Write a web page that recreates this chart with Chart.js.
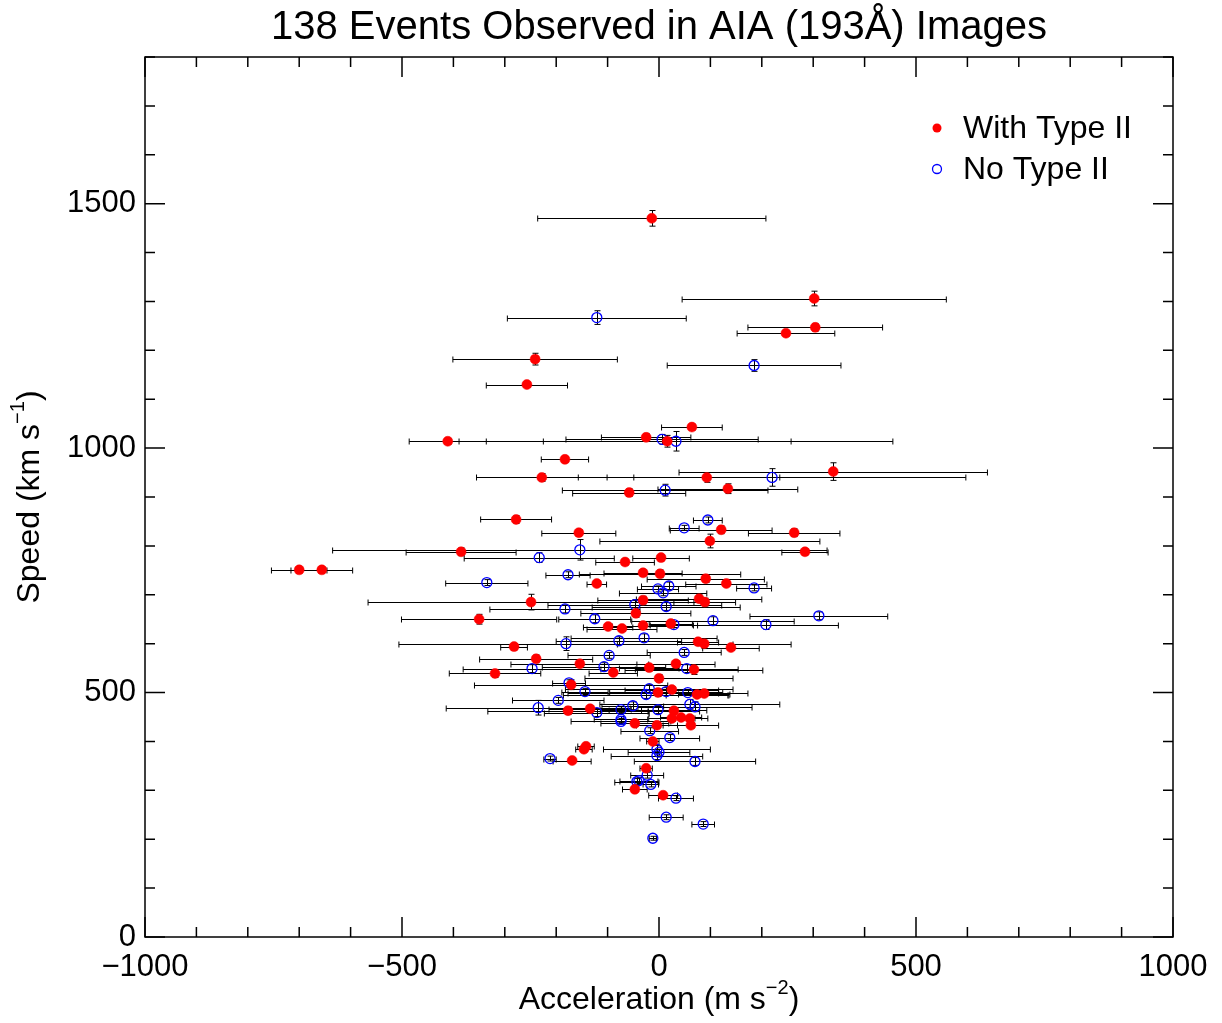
<!DOCTYPE html>
<html>
<head>
<meta charset="utf-8">
<script src="https://cdn.jsdelivr.net/npm/chart.js@4.4.1/dist/chart.umd.min.js"></script>
<style>
  html, body { margin: 0; padding: 0; background: #fff; }
</style>
</head>
<body>
<canvas id="chart" width="1222" height="1023"></canvas>
<script>
// With Type II (red, filled)
const redAcc = [-14, 302, 304, 247, -241, -257, 64, -411, -25, 16, -183, -228, 93, 339, -58, 134, -278, 121, 263, -156,
  99, -385, 284, 4, -66, -700, -656, -31, 2, 91, 131, -121, -249, -31, 78, 89, -45, -350, 23, -99,
  -72, -31, 76, 88, 140, -282, -239, -154, 33, -19, 68, -319, -89, 0, -171, 25, -2, 74, 88, -134,
  -177, 29, 25, 43, 60, 62, -47, -4, -12, -142, -146, -169, -25, -47, 8];
const redSpeed = [1470, 1306, 1247, 1235, 1182, 1130, 1043, 1014, 1022, 1014, 977, 940, 940, 952, 909, 917, 854, 833, 827, 827,
  810, 788, 788, 776, 767, 751, 751, 745, 743, 733, 723, 723, 685, 689, 692, 685, 662, 650, 641, 635,
  631, 637, 604, 600, 592, 594, 569, 559, 559, 551, 547, 539, 541, 529, 516, 506, 500, 496, 498, 467,
  463, 463, 447, 449, 447, 433, 437, 433, 400, 390, 384, 361, 345, 302, 290];
const redAccErr = [222, 257, 131, 95, 160, 79, 59, 75, 87, 241, 46, 127, 142, 300, 110, 136, 69, 99, 89, 72,
  214, 107, 45, 55, 57, 54, 60, 76, 157, 114, 79, 19, 317, 88, 122, 60, 107, 151, 42, 48,
  68, 60, 40, 169, 55, 26, 110, 134, 76, 58, 134, 89, 47, 144, 188, 91, 175, 60, 50, 80,
  156, 50, 45, 40, 35, 54, 66, 40, 12, 16, 16, 37, 12, 24, 28];
const redSpeedErr = [16, 15, 8, 6, 12, 6, 6, 6, 8, 12, 6, 8, 10, 18, 8, 10, 8, 8, 8, 6,
  14, 8, 6, 6, 6, 5, 5, 6, 8, 8, 6, 6, 16, 8, 8, 8, 8, 10, 6, 6,
  6, 6, 6, 10, 6, 6, 8, 8, 6, 6, 10, 8, 6, 8, 10, 6, 8, 6, 6, 6,
  8, 6, 6, 6, 6, 6, 6, 6, 5, 5, 5, 5, 5, 5, 5];

// No Type II (blue, open)
const blueAcc = [-121, 185, 6, 33, 220, 12, 95, 49, -154, -233, -177, -335, 185, 19, -2, 8, -47, 14, -183, 311,
  -125, 105, 208, 29, -29, -78, -181, 49, -97, -247, -107, 54, -175, -19, 14, -144, -25, 56, -196, -235,
  -51, -74, -2, -121, 60, 70, -74, -74, -18, 21, -4, -4, -212, 70, -23, -39, -43, -16, 33, 14, 86, -12, 0];
const blueSpeed = [1267, 1169, 1018, 1014, 940, 914, 853, 837, 792, 776, 741, 725, 714, 718, 712, 704, 680, 676, 671, 657,
  651, 647, 639, 639, 612, 606, 600, 582, 576, 549, 553, 549, 520, 508, 502, 502, 496, 500, 484, 469,
  473, 465, 465, 459, 476, 471, 441, 445, 422, 408, 384, 371, 365, 359, 331, 320, 318, 312, 284, 245, 231, 202, 378];
const blueAccErr = [174, 169, 187, 422, 377, 200, 28, 29, 481, 146, 43, 80, 34, 53, 40, 85, 169, 144, 146, 134,
  70, 158, 141, 46, 142, 122, 325, 72, 80, 134, 120, 100, 32, 163, 110, 45, 161, 60, 89, 179,
  60, 40, 95, 102, 175, 111, 97, 52, 56, 58, 104, 89, 12, 118, 32, 37, 43, 15, 34, 33, 22, 7, 60];
const blueSpeedErr = [14, 12, 10, 20, 18, 12, 6, 5, 21, 10, 6, 6, 6, 8, 6, 6, 10, 8, 8, 8,
  8, 8, 10, 6, 8, 8, 14, 6, 6, 8, 8, 8, 6, 8, 8, 6, 8, 6, 6, 15,
  8, 6, 8, 8, 10, 10, 6, 6, 6, 6, 8, 8, 5, 8, 6, 6, 6, 5, 5, 5, 5, 4, 6];

const FONT = '"Liberation Sans", Arial, Helvetica, sans-serif';

function toPoints(acc, speed, accErr, speedErr) {
    return acc.map((a, i) => ({ x: a, y: speed[i], xErr: accErr[i], yErr: speedErr[i] }));
}

function minus(v) {
    return String(v).replace('-', '\u2212');
}

// error bars drawn under the markers
const errorBars = {
    id: 'errorBars',
    beforeDatasetsDraw(chart) {
        const { ctx, scales: { x, y } } = chart;
        ctx.save();
        ctx.strokeStyle = '#000';
        ctx.lineWidth = 1;
        chart.data.datasets.forEach(ds => {
            ds.data.forEach(p => {
                const px = Math.round(x.getPixelForValue(p.x)) + 0.5;
                const py = Math.round(y.getPixelForValue(p.y)) + 0.5;
                const x0 = x.getPixelForValue(p.x - p.xErr);
                const x1 = x.getPixelForValue(p.x + p.xErr);
                const y0 = y.getPixelForValue(p.y - p.yErr);
                const y1 = y.getPixelForValue(p.y + p.yErr);
                ctx.beginPath();
                ctx.moveTo(x0, py); ctx.lineTo(x1, py);
                ctx.moveTo(x0, py - 3); ctx.lineTo(x0, py + 3);
                ctx.moveTo(x1, py - 3); ctx.lineTo(x1, py + 3);
                ctx.moveTo(px, y0); ctx.lineTo(px, y1);
                ctx.moveTo(px - 3, y0); ctx.lineTo(px + 3, y0);
                ctx.moveTo(px - 3, y1); ctx.lineTo(px + 3, y1);
                ctx.stroke();
            });
        });
        ctx.restore();
    }
};

// text with a superscript part, e.g. "km s" + "-1" + ")"
function drawSup(ctx, pre, sup, post, cx, cy) {
    ctx.font = '32px ' + FONT;
    const w1 = ctx.measureText(pre).width;
    const w3 = ctx.measureText(post).width;
    ctx.font = '20px ' + FONT;
    const w2 = ctx.measureText(sup).width;
    let left = cx - (w1 + w2 + w3) / 2;
    ctx.textAlign = 'left';
    ctx.textBaseline = 'middle';
    ctx.font = '32px ' + FONT;
    ctx.fillText(pre, left, cy);
    ctx.font = '20px ' + FONT;
    ctx.fillText(sup, left + w1, cy - 12);
    ctx.font = '32px ' + FONT;
    ctx.fillText(post, left + w1 + w2, cy);
}

// IDL-like frame: box, inward ticks on all sides, title, axis titles, legend
const frame = {
    id: 'frame',
    afterDraw(chart) {
        const { ctx, chartArea: a, scales: { x, y } } = chart;
        ctx.save();
        ctx.strokeStyle = '#000';
        ctx.lineWidth = 1.5;
        ctx.strokeRect(a.left, a.top, a.right - a.left, a.bottom - a.top);
        ctx.beginPath();
        for (let v = x.min; v <= x.max; v += 100) {
            const px = x.getPixelForValue(v);
            const len = v % 500 === 0 ? 20 : 10;
            ctx.moveTo(px, a.bottom); ctx.lineTo(px, a.bottom - len);
            ctx.moveTo(px, a.top); ctx.lineTo(px, a.top + len);
        }
        for (let v = y.min; v <= y.max; v += 100) {
            const py = y.getPixelForValue(v);
            const len = v % 500 === 0 ? 20 : 10;
            ctx.moveTo(a.left, py); ctx.lineTo(a.left + len, py);
            ctx.moveTo(a.right, py); ctx.lineTo(a.right - len, py);
        }
        ctx.stroke();

        ctx.fillStyle = '#000';
        ctx.textAlign = 'center';
        ctx.textBaseline = 'middle';
        ctx.font = '40px ' + FONT;
        ctx.fillText('138 Events Observed in AIA (193\u00C5) Images', (a.left + a.right) / 2, 28);

        drawSup(ctx, 'Acceleration (m s', '\u22122', ')', (a.left + a.right) / 2, 1000);
        ctx.save();
        ctx.translate(30, (a.top + a.bottom) / 2);
        ctx.rotate(-Math.PI / 2);
        drawSup(ctx, 'Speed (km s', '\u22121', ')', 0, 0);
        ctx.restore();

        // legend
        ctx.font = '32px ' + FONT;
        ctx.textAlign = 'left';
        ctx.textBaseline = 'middle';
        ctx.fillStyle = 'red';
        ctx.beginPath(); ctx.arc(937, 128, 4.5, 0, 2 * Math.PI); ctx.fill();
        ctx.strokeStyle = 'blue'; ctx.lineWidth = 1.3;
        ctx.beginPath(); ctx.arc(937, 169, 4.5, 0, 2 * Math.PI); ctx.stroke();
        ctx.fillStyle = '#000';
        ctx.fillText('With Type II', 963, 129);
        ctx.fillText('No Type II', 963, 170);
        ctx.restore();
    }
};

const chart = new Chart(document.getElementById('chart'), {
    type: 'scatter',
    data: {
        datasets: [{
            label: 'With Type II',
            data: toPoints(redAcc, redSpeed, redAccErr, redSpeedErr),
            backgroundColor: 'red',
            borderColor: 'red',
            borderWidth: 0.5,
            pointRadius: 5
        }, {
            label: 'No Type II',
            data: toPoints(blueAcc, blueSpeed, blueAccErr, blueSpeedErr),
            backgroundColor: 'rgba(0,0,0,0)',
            borderColor: 'blue',
            borderWidth: 1.3,
            pointRadius: 5
        }]
    },
    options: {
        responsive: false,
        animation: false,
        layout: { padding: { left: 0, right: 49, top: 57, bottom: 0 } },
        plugins: {
            legend: { display: false },
            title: { display: false },
            tooltip: { enabled: false }
        },
        scales: {
            x: {
                type: 'linear',
                min: -1000,
                max: 1000,
                afterFit: s => { s.height = 86; },
                grid: { display: false, drawTicks: false },
                border: { display: false },
                ticks: {
                    stepSize: 500,
                    padding: 12,
                    color: '#000',
                    maxRotation: 0,
                    autoSkip: false,
                    font: { family: FONT, size: 31 },
                    callback: v => minus(v)
                }
            },
            y: {
                type: 'linear',
                min: 0,
                max: 1800,
                afterFit: s => { s.width = 145; },
                grid: { display: false, drawTicks: false },
                border: { display: false },
                ticks: {
                    stepSize: 100,
                    padding: 9,
                    autoSkip: false,
                    color: '#000',
                    font: { family: FONT, size: 31 },
                    callback: v => (v % 500 === 0 ? String(v) : '')
                }
            }
        }
    },
    plugins: [errorBars, frame]
});
</script>
</body>
</html>
